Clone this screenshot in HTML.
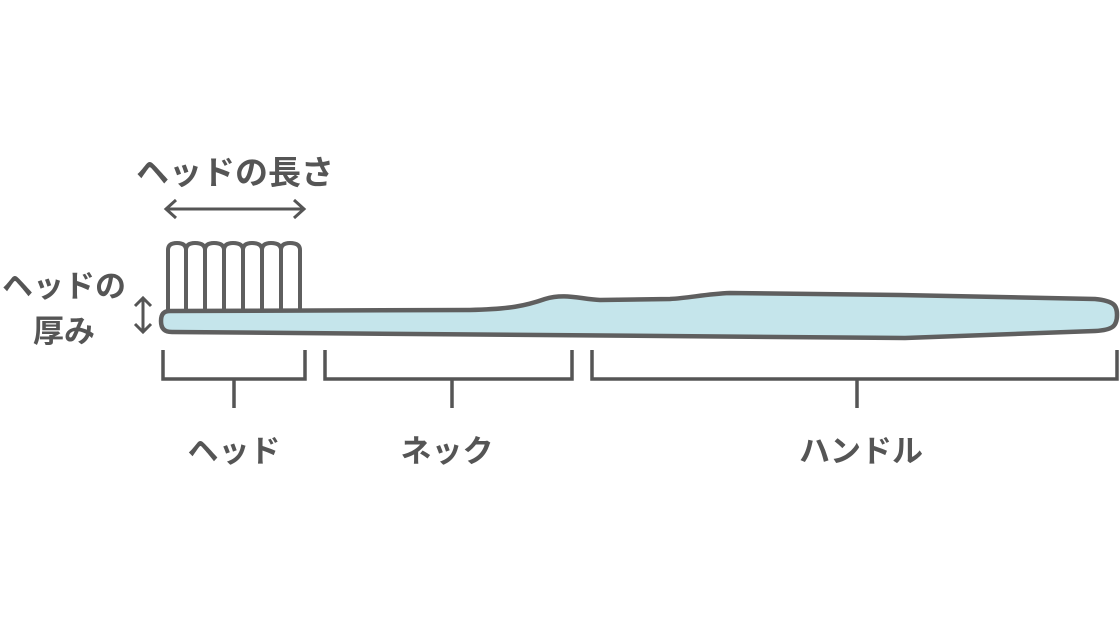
<!DOCTYPE html>
<html><head><meta charset="utf-8"><style>
html,body{margin:0;padding:0;background:#fff;}
svg{display:block;}
text{font-family:"Liberation Sans","Noto Sans CJK JP",sans-serif;font-weight:bold;fill:#555;}
</style></head><body>
<svg width="1120" height="630" viewBox="0 0 1120 630" xmlns="http://www.w3.org/2000/svg">
<g fill="#fff" stroke="#5f5f5f" stroke-width="4">
<path d="M168 311 V250 Q168 243 177 243 Q186 243 186 250 V311"/>
<path d="M186 311 V250 Q186 243 195 243 Q205 243 205 250 V311"/>
<path d="M205 311 V250 Q205 243 214 243 Q224 243 224 250 V311"/>
<path d="M224 311 V250 Q224 243 233 243 Q243 243 243 250 V311"/>
<path d="M243 311 V250 Q243 243 252 243 Q262 243 262 250 V311"/>
<path d="M262 311 V250 Q262 243 271 243 Q281 243 281 250 V311"/>
<path d="M281 311 V250 Q281 243 290 243 Q300 243 300 250 V311"/>
</g>
<path d="M170 311 L470 310 C510 309 525 306 545 299 C565 293 580 299 600 300 L670 299 C690 298 705 294 730 293 L900 295 L1095 299 C1115 301 1117 306 1117 315 C1117 326 1113 330 1095 331 L905 338 L172 332 C163 332 161 327 161 321 C161 314 164 311 170 311 Z" fill="#c5e5eb" stroke="#5f5f5f" stroke-width="4.5" stroke-linejoin="round"/>
<g fill="none" stroke="#555" stroke-width="3.5">
<path d="M163 350 V379 H305 V350 M234 379 V408"/>
<path d="M325 350 V379 H572 V350 M452 379 V408"/>
<path d="M592 350 V379 H1117 V350 M857 379 V408"/>
<path d="M166 209 H304 M176 200 L166 209 L176 218 M294 200 L304 209 L294 218" stroke-width="3"/>
<path d="M143 298 V332 M135 306 L143 298 L151 306 M135 324 L143 332 L151 324" stroke-width="3"/>
</g>
<text x="235" y="184" font-size="33" text-anchor="middle">ヘッドの長さ</text>
<text x="64" y="297" font-size="31" text-anchor="middle">ヘッドの</text>
<text x="64" y="342" font-size="31" text-anchor="middle">厚み</text>
<text x="234" y="462" font-size="31" text-anchor="middle">ヘッド</text>
<text x="447" y="462" font-size="31" text-anchor="middle">ネック</text>
<text x="861" y="462" font-size="31" text-anchor="middle">ハンドル</text>
</svg>
</body></html>
